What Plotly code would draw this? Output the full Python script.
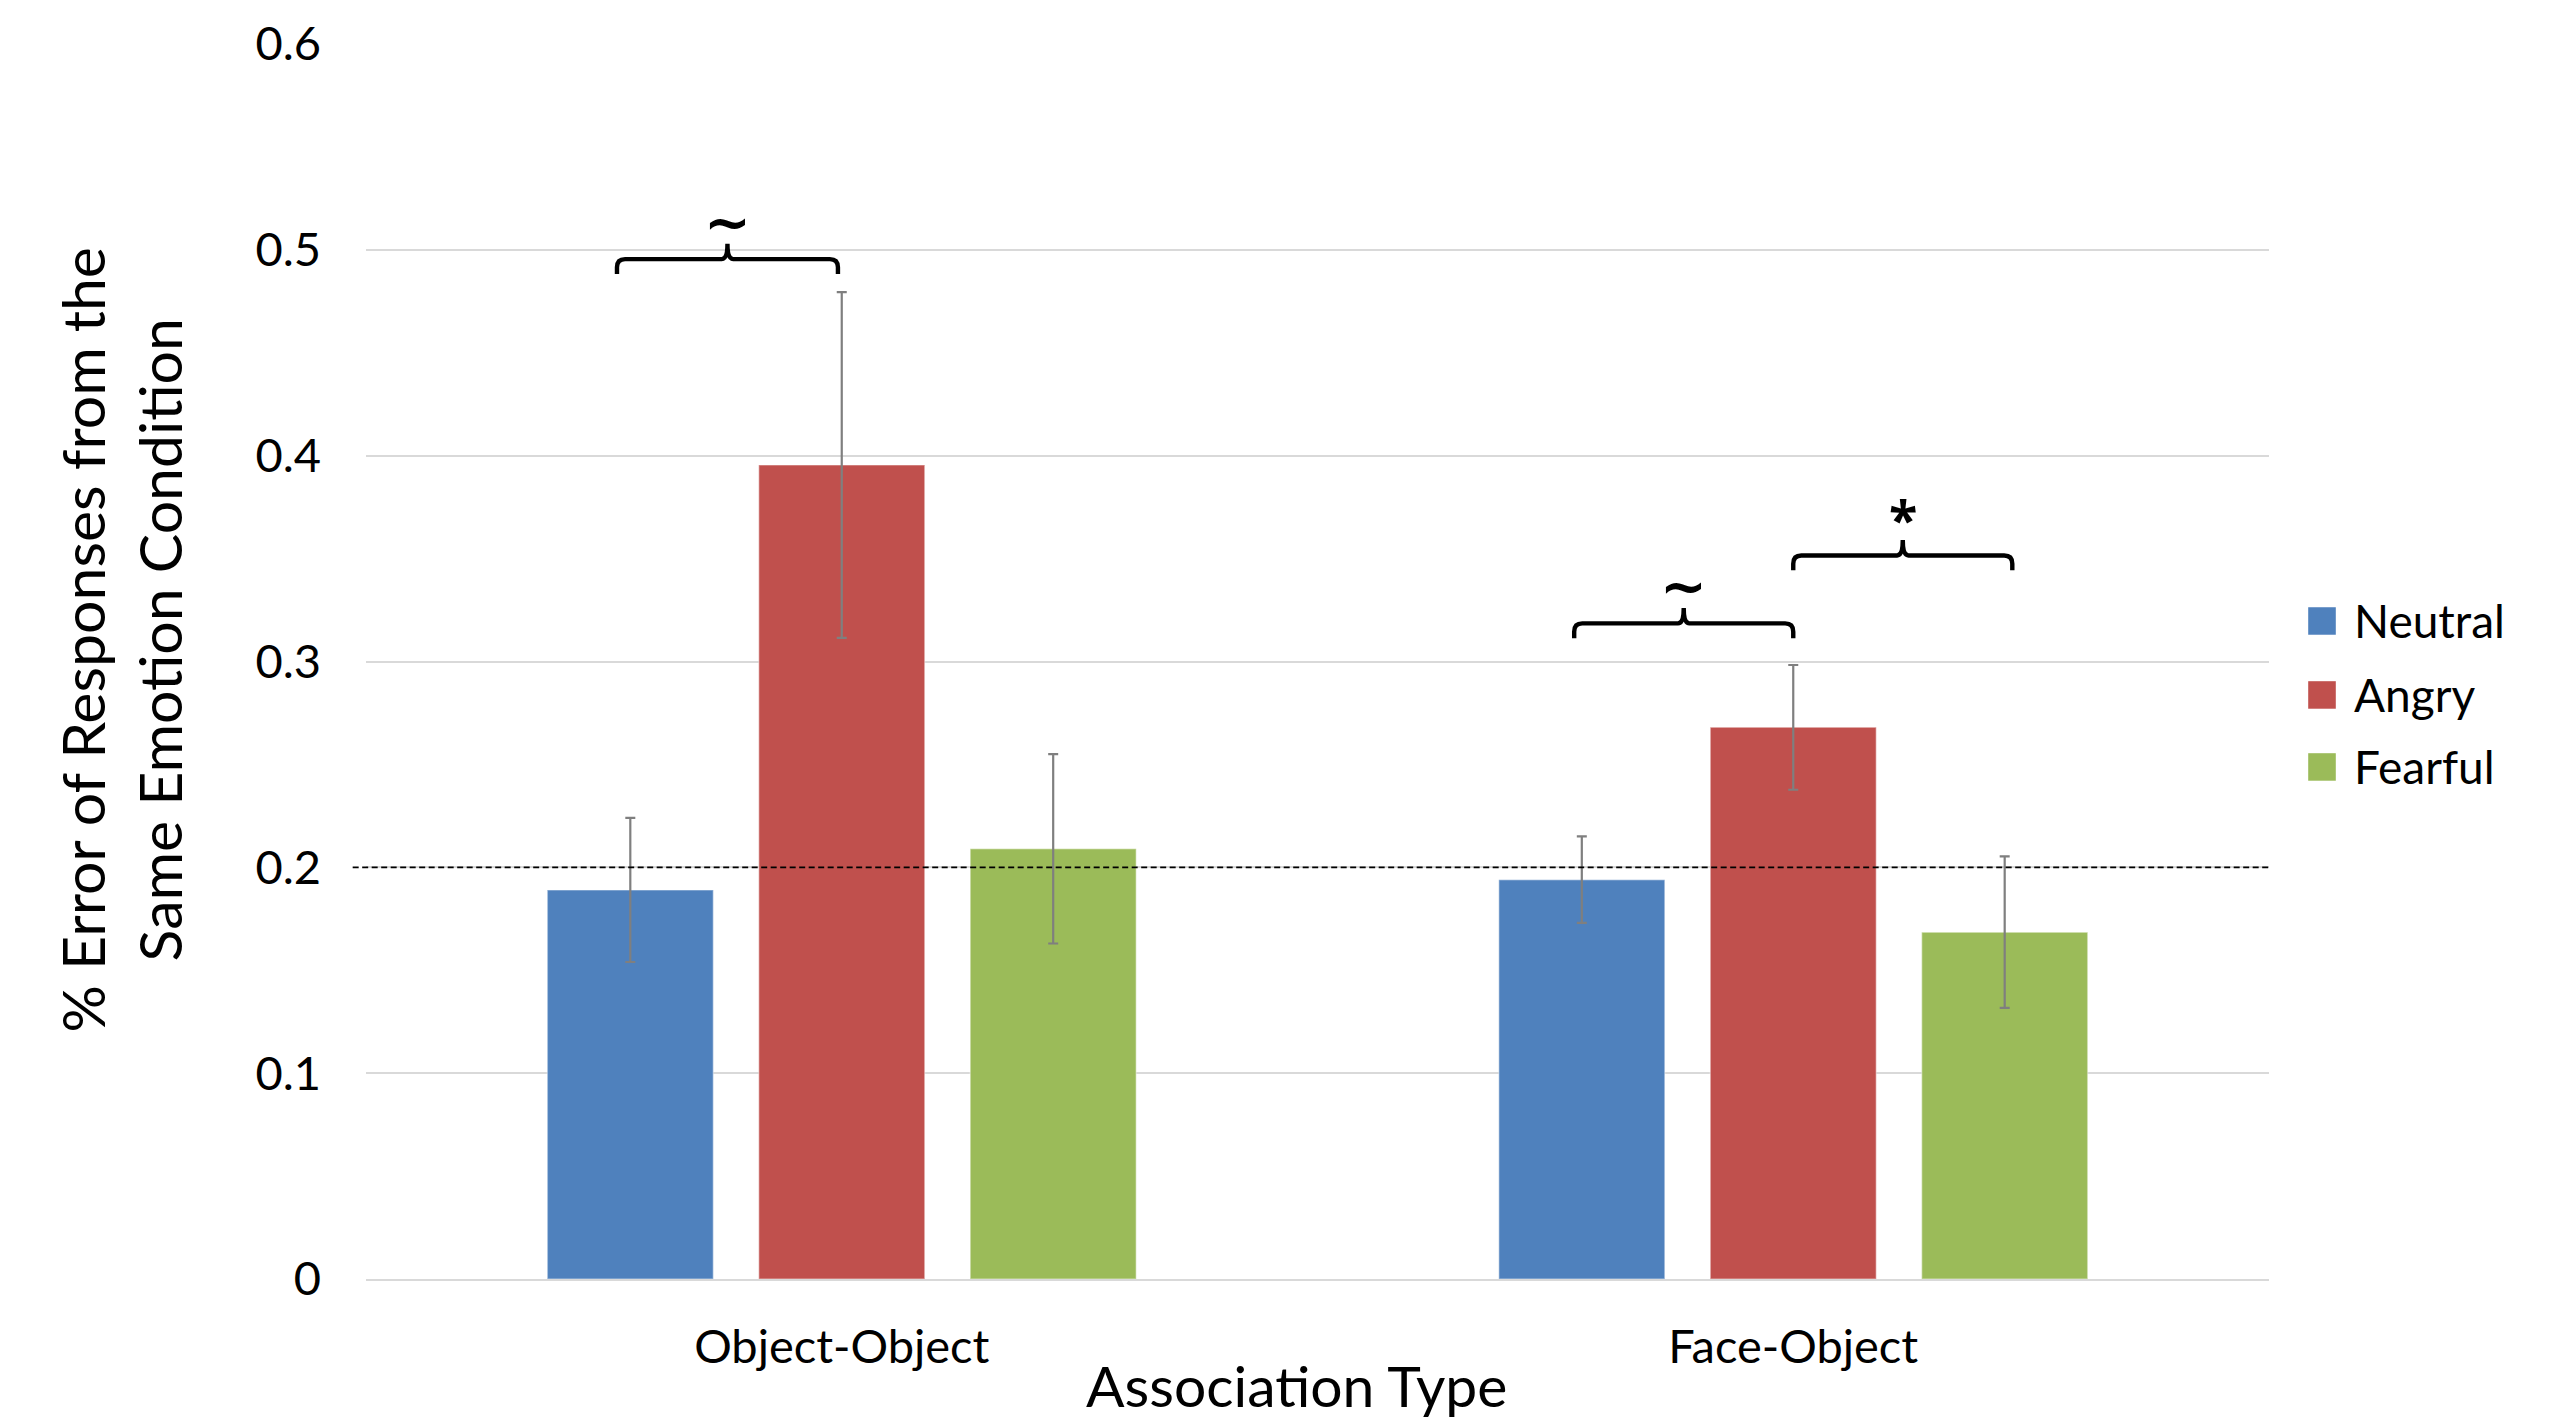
import plotly.graph_objects as go

# ---- data -------------------------------------------------------------
categories = ["Object-Object", "Face-Object"]
emotions = ["Neutral", "Angry", "Fearful"]
neutral_vals = [0.189, 0.194]
angry_vals = [0.3955, 0.268]
fearful_vals = [0.209, 0.1685]
neutral_err = [0.035, 0.021]
angry_err = [0.084, 0.0303]
fearful_err = [0.046, 0.0368]
y_ticks = [0, 0.1, 0.2, 0.3, 0.4, 0.5, 0.6]
y_tick_labels = ["0", "0.1", "0.2", "0.3", "0.4", "0.5", "0.6"]
chance_level = 0.2

# significance marks: (category index, first emotion, second emotion, label)
sig_pairs = [
    (0, "Neutral", "Angry", "~"),
    (1, "Neutral", "Angry", "~"),
    (1, "Angry", "Fearful", "*"),
]

# ---- styling ----------------------------------------------------------
colors = {"Neutral": "#4F81BD", "Angry": "#C0504D", "Fearful": "#9BBB59"}
FONT = "Lato, 'Open Sans', sans-serif"
BARGAP = 1 / 3
BARGROUPGAP = 0.215
# per bracket: height of the bar and small end overhangs (x units)
bracket_levels = [0.4955, 0.3185, 0.3515]
bracket_pads = [(-0.014, -0.004), (-0.008, 0.0), (0.0, 0.008)]
label_style = {
    "~": dict(size=56, dy=0.0185, family="DejaVu Sans"),
    "*": dict(size=52, dy=0.018, family="Open Sans"),
}

series_vals = {"Neutral": neutral_vals, "Angry": angry_vals, "Fearful": fearful_vals}
series_err = {"Neutral": neutral_err, "Angry": angry_err, "Fearful": fearful_err}
x_pos = list(range(len(categories)))

fig = go.Figure()
for name in emotions:
    fig.add_trace(go.Bar(
        x=x_pos,
        y=series_vals[name],
        name=name,
        marker=dict(color=colors[name], line=dict(color="rgba(255,255,255,0.35)", width=1.5)),
        error_y=dict(type="data", array=series_err[name], color="#7F7F7F",
                     thickness=2.2, width=5),
    ))

# dashed reference line at the chance level
fig.add_shape(type="line", xref="paper", yref="y", x0=-0.007, x1=1.0,
              y0=chance_level, y1=chance_level,
              line=dict(color="black", width=1.8, dash="6px,3.5px"), layer="above")

# significance brackets, placed over the centres of the compared bars
slot = (1 - BARGAP) / len(emotions)


def bar_center(cat, emo):
    return cat + (emotions.index(emo) - (len(emotions) - 1) / 2) * slot


cx, cy = 0.0085, 0.004      # corner rounding
drop = 0.0072               # length of the bracket's end legs
tip = 0.0075                # height of the middle cusp
mx = 0.006
for (cat, a, b, label), yh, (pl, pr) in zip(sig_pairs, bracket_levels, bracket_pads):
    xl = bar_center(cat, a) + pl
    xr = bar_center(cat, b) + pr
    xm = (xl + xr) / 2
    path = (
        f"M {xl},{yh - drop} L {xl},{yh - cy} Q {xl},{yh} {xl + cx},{yh} "
        f"L {xm - mx},{yh} Q {xm},{yh} {xm},{yh + tip} "
        f"M {xm},{yh + tip} Q {xm},{yh} {xm + mx},{yh} "
        f"L {xr - cx},{yh} Q {xr},{yh} {xr},{yh - cy} L {xr},{yh - drop}"
    )
    fig.add_shape(type="path", path=path, xref="x", yref="y",
                  line=dict(color="black", width=4.4), layer="above")
    st = label_style[label]
    fig.add_annotation(x=xm, y=yh + st["dy"],
                       xref="x", yref="y", text=f"<b>{label}</b>", showarrow=False,
                       font=dict(size=st["size"], color="black", family=st["family"]),
                       xanchor="center", yanchor="middle")

# legend: coloured squares with labels to the right of the plot
legend_y = [0.5328, 0.4729, 0.4146]
half = 0.0113
for name, ly in zip(emotions, legend_y):
    fig.add_shape(type="rect", xref="paper", yref="paper",
                  x0=1.0205, x1=1.0352, y0=ly - half, y1=ly + half,
                  fillcolor=colors[name], line=dict(color="rgba(255,255,255,0.4)", width=1))
    fig.add_annotation(x=1.0436, y=ly, xref="paper", yref="paper", text=name,
                       showarrow=False, xanchor="left", yanchor="middle",
                       font=dict(size=46, color="black", family=FONT))

# axis titles
fig.add_annotation(x=-0.1285, y=0.5174, xref="paper", yref="paper",
                   text="% Error of Responses from the<br>Same Emotion Condition",
                   textangle=-90, showarrow=False, xanchor="center", yanchor="middle",
                   font=dict(size=59, color="black", family=FONT))
fig.add_annotation(x=0.4892, y=-0.0855, xref="paper", yref="paper",
                   text="Association Type", showarrow=False,
                   xanchor="center", yanchor="middle",
                   font=dict(size=57, color="black", family=FONT))

fig.update_layout(
    width=2564, height=1419,
    margin=dict(l=366, r=295, t=44, b=140),
    barmode="group", bargap=BARGAP, bargroupgap=BARGROUPGAP,
    plot_bgcolor="white", paper_bgcolor="white",
    font=dict(family=FONT, color="black"),
    showlegend=False,
    xaxis=dict(range=[-0.5, 1.5], tickvals=x_pos, ticktext=categories,
               showgrid=False, zeroline=False, showline=True,
               linecolor="#D9D9D9", linewidth=2, ticks="",
               tickfont=dict(size=47, family=FONT), ticklabelstandoff=26),
    yaxis=dict(range=[0, 0.6], tickvals=y_ticks, ticktext=y_tick_labels,
               showgrid=True, gridcolor="#D9D9D9", gridwidth=2,
               zeroline=False, showline=False, ticks="",
               tickfont=dict(size=47, family=FONT), ticklabelstandoff=44),
)

fig.write_html("out.html")
